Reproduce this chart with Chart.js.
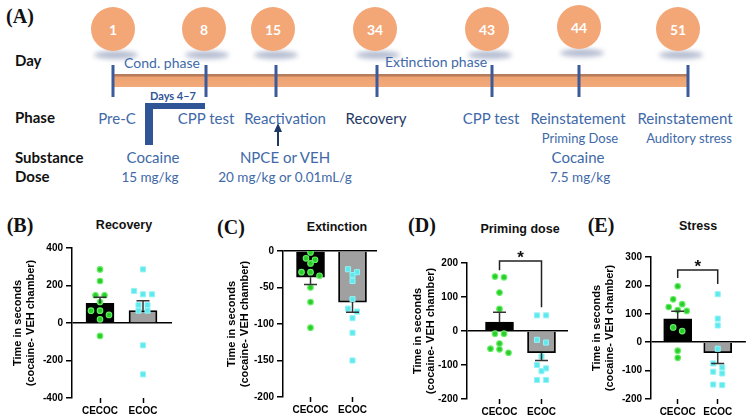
<!DOCTYPE html>
<html><head><meta charset="utf-8">
<script src="https://cdn.jsdelivr.net/npm/chart.js@4"></script>
<style>
html,body{margin:0;padding:0;background:#fff;}
#page{position:relative;width:751px;height:418px;overflow:hidden;font-family:Lato,'Noto Sans',sans-serif;}
.t{position:absolute;white-space:nowrap;transform:translate(-50%,-50%);line-height:1;color:#4169a8;font-size:15px;}
.row{position:absolute;white-space:nowrap;transform:translateY(-50%);font-weight:bold;color:#111;font-size:15px;line-height:1;}
.circle{position:absolute;width:44px;height:44px;border-radius:50%;background:#f3a676;color:#fff;font-size:14px;font-weight:bold;display:flex;align-items:center;justify-content:center;transform:translate(-50%,-50%);}
.shadow{position:absolute;width:44px;height:8px;border-radius:50%;background:#b4bcd0;filter:blur(2.5px);transform:translate(-50%,-50%);}
.tick{position:absolute;width:3px;background:#3c5b9b;top:65px;height:32px;transform:translateX(-50%);}
.plabel{position:absolute;font-family:'Liberation Serif',serif;font-weight:bold;font-size:20px;transform:translate(-50%,-50%);line-height:1;color:#111;}
.ptitle{position:absolute;font-family:'Liberation Sans',Arial,sans-serif;font-weight:bold;font-size:12.5px;transform:translate(-50%,-50%);line-height:1;color:#111;white-space:nowrap;}
canvas{position:absolute;}
</style>
</head><body>
<div id="page"></div>
<script>
// ---------- text / categories ----------
const days = ['1','8','15','34','43','44','51'];
const phaseLabels = ['Pre-C','CPP test','Reactivation','Recovery','CPP test','Reinstatement','Reinstatement'];
const phaseNotes = ['Priming Dose','Auditory stress'];
const substances = ['Cocaine','NPCE or VEH','Cocaine'];
const doses = ['15 mg/kg','20 mg/kg or 0.01mL/g','7.5 mg/kg'];
const rowLabels = ['Day','Phase','Substance','Dose'];
const spanLabels = ['Cond. phase','Extinction phase'];
const condDays = 'Days 4–7';
const panelLetters = ['(A)','(B)','(C)','(D)','(E)'];
const panelTitles = ['Recovery','Extinction','Priming dose','Stress'];
const groups = ['CECOC','ECOC'];
const yAxisTitle = ['Time in seconds','(cocaine- VEH chamber)'];
const sigLabel = '*';

// ---------- values ----------
const recoveryMean = [105, 66];
const recoverySem = [32, 53];
const recoveryCECOC = [286, 224, 148, 148, 112, 66, 66, 43, 20, -69];
const recoveryECOC = [286, 171, 153, 153, 96, 96, 66, 66, -119, -274];
const recoveryTicks = [-400, -200, 0, 200, 400];

const extinctionMean = [-36, -70];
const extinctionSem = [10, 14];
const extinctionCECOC = [-2, -10, -12, -17, -29, -29, -34, -50, -70, -105];
const extinctionECOC = [-25, -29, -33, -41, -66, -79, -83, -92, -112, -150];
const extinctionTicks = [-200, -150, -100, -50, 0];

const primingMean = [26, -64];
const primingSem = [29, 23];
const primingCECOC = [158, 160, 113, 65, -8, -8, -37, -52, -54, -64];
const primingECOC = [46, 46, -26, -34, -75, -100, -110, -118, -144, -144];
const primingTicks = [-200, -100, 0, 100, 200];
const primingBracket = [206, 179, 70]; // top, left end, right end (data units)

const stressMean = [82, -37];
const stressSem = [27, 38];
const stressCECOC = [197, 151, 134, 124, 113, 110, 52, 39, -30, -55];
const stressECOC = [169, 83, 59, -23, -75, -89, -104, -110, -151, -149];
const stressTicks = [-200, -100, 0, 100, 200, 300];
const stressBracket = [254, 226, 205];

// ---------- timeline layout (styles) ----------
const page = document.getElementById('page');
function add(cls, html, css){ const d=document.createElement('div'); d.className=cls; if(html!==null) d.textContent=html; Object.assign(d.style, css||{}); page.appendChild(d); return d; }
const dayX=[113,204,273,375,487,579,678], dayY=[29,29,29,29,29,27,29];
const tickX=[113,206,276,377,492,579,688];
const phaseX=[117,206,285,376,491,578,685];
const noteX=[580,689], substX=[153,285,578], doseX=[150,285,580];
const rowY=[60,117,157,176];

add('plabel', panelLetters[0], {left:'20px', top:'16px'});
days.forEach((d,i)=>{ add('shadow', null, {left:(dayX[i]+3)+'px', top:(dayY[i]+26)+'px'}); });
days.forEach((d,i)=>{ add('circle', d, {left:dayX[i]+'px', top:dayY[i]+'px'}); });
add('', null, {position:'absolute', left:'113px', top:'74px', width:'575px', height:'13px',
  background:'linear-gradient(to bottom,#b67c5c 0,#b67c5c 2px,#eea271 3px,#f3ab7b 100%)'});
tickX.forEach(x=>add('tick', null, {left:x+'px'}));
rowLabels.forEach((r,i)=>add('row', r, {left:'15px', top:rowY[i]+'px'}));
add('t', spanLabels[0], {left:'162px', top:'63px', fontSize:'14px'});
add('t', spanLabels[1], {left:'436px', top:'62px', fontSize:'14px'});
add('t', condDays, {left:'173px', top:'95px', fontSize:'11px', fontWeight:'bold', color:'#2f5597'});
add('', null, {position:'absolute', left:'145px', top:'103px', width:'60px', height:'6px', background:'#2f5597'});
add('', null, {position:'absolute', left:'145px', top:'103px', width:'8px', height:'42px', background:'#2f5597'});
phaseLabels.forEach((p,i)=>add('t', p, {left:phaseX[i]+'px', top:'118px', color: i===3 ? '#1f3864' : '#4169a8'}));
phaseNotes.forEach((p,i)=>add('t', p, {left:noteX[i]+'px', top:'138px', fontSize:'13px'}));
substances.forEach((p,i)=>add('t', p, {left:substX[i]+'px', top:'157px'}));
doses.forEach((p,i)=>add('t', p, {left:doseX[i]+'px', top:'178px', fontSize:'13.5px'}));
// arrow
add('', null, {position:'absolute', left:'277px', top:'131px', width:'2px', height:'15px', background:'#1f3864'});
add('', null, {position:'absolute', left:'274px', top:'123px', width:0, height:0, borderLeft:'4px solid transparent', borderRight:'4px solid transparent', borderBottom:'9px solid #1f3864'});

// ---------- bar panels ----------
const panelLetterPos=[[20,225],[231,227],[422,225],[601,225]];
const panelTitlePos=[[124,225],[337,227],[520,229],[698,226]];
panelTitles.forEach((t,i)=>{
  add('plabel', panelLetters[i+1], {left:panelLetterPos[i][0]+'px', top:panelLetterPos[i][1]+'px'});
  add('ptitle', t, {left:panelTitlePos[i][0]+'px', top:panelTitlePos[i][1]+'px'});
});

const FONT = "'Liberation Sans', Arial, sans-serif";

function makePanel(c){
  const cv=document.createElement('canvas');
  cv.width=c.w; cv.height=c.h;
  cv.style.left=c.left+'px'; cv.style.top=c.top+'px';
  cv.style.width=c.w+'px'; cv.style.height=c.h+'px';
  page.appendChild(cv);
  const extras={
    id:'extras',
    afterDatasetsDraw(chart){
      const {ctx, scales:{x,y}}=chart;
      ctx.save();
      ctx.strokeStyle='#333'; ctx.lineWidth=1.5;
      c.mean.forEach((m,i)=>{
        const px=x.getPixelForValue(i), y0=y.getPixelForValue(m), y1=y.getPixelForValue(m+Math.sign(m)*c.sem[i]);
        ctx.beginPath(); ctx.moveTo(px,y0); ctx.lineTo(px,y1);
        ctx.moveTo(px-6.5,y1); ctx.lineTo(px+6.5,y1); ctx.stroke();
      });
      if(c.bracket){
        const x0=x.getPixelForValue(0), x1=x.getPixelForValue(1);
        const yt=y.getPixelForValue(c.bracket[0]);
        ctx.strokeStyle='#222'; ctx.lineWidth=1.5;
        ctx.beginPath();
        ctx.moveTo(x0,y.getPixelForValue(c.bracket[1])); ctx.lineTo(x0,yt); ctx.lineTo(x1,yt); ctx.lineTo(x1,y.getPixelForValue(c.bracket[2]));
        ctx.stroke();
        ctx.fillStyle='#111'; ctx.font="bold 17px "+FONT; ctx.textAlign='center'; ctx.textBaseline='alphabetic';
        ctx.fillText(sigLabel,(x0+x1)/2,yt+2);
      }
      ctx.restore();
    }
  };
  const chart=new Chart(cv,{
    type:'bar',
    data:{datasets:[
      {type:'bar', data:c.mean.map((m,i)=>({x:i,y:m})), backgroundColor:['#000','#a0a0a0'], borderColor:'#000', borderWidth:1.8, barThickness:28, order:3},
      {type:'scatter', data:c.a.map(v=>({x:0,y:v})), pointStyle:'circle', pointRadius:2.8, backgroundColor:'#2ccc2c', borderColor:'#66f066', borderWidth:1.1, order:1},
      {type:'scatter', data:c.b.map(v=>({x:1,y:v})), pointStyle:'rect', pointRadius:3.6, backgroundColor:'#5ee9ee', borderColor:'#93f3f5', borderWidth:1, order:2}
    ]},
    options:{
      responsive:false, animation:false, devicePixelRatio:1, events:[],
      layout:{padding:{top:c.padTop, right:c.padRight, bottom:0, left:0}},
      plugins:{legend:{display:false}, tooltip:{enabled:false}, title:{display:false}},
      scales:{
        x:{type:'linear', min:c.xMin, max:c.xMax, offset:false,
          afterBuildTicks:s=>{ s.ticks=groups.map((g,i)=>({value:i})); },
          afterFit:s=>{ s.height=c.xH; },
          border:{display:false},
          grid:{offset:false, drawOnChartArea:false, drawTicks:true, tickLength:5, tickColor:'#000', tickWidth:1.5, color:'#000'},
          ticks:{callback:v=>groups[v], font:{family:FONT, size:10, weight:'bold'}, color:'#000', padding:2, maxRotation:0, autoSkip:false}
        },
        y:{type:'linear', min:c.yTicks[0], max:c.yTicks[c.yTicks.length-1],
          afterBuildTicks:s=>{ s.ticks=c.yTicks.map(v=>({value:v})); },
          afterFit:s=>{ s.width=c.yW; },
          border:{display:true, color:'#000', width:1.5},
          grid:{drawOnChartArea:true, drawTicks:true, tickLength:6, tickColor:'#000', tickWidth:1.5, lineWidth:1.5,
            color:ctx=> (ctx.tick && ctx.tick.value===0) ? '#000' : 'rgba(0,0,0,0)'},
          ticks:{font:{family:FONT, size:10, weight:'bold'}, color:'#000', padding:3},
          title:{display:true, text:yAxisTitle, font:{family:FONT, size:11, weight:'bold'}, color:'#000', padding:{top:c.titlePad, bottom:0}}
        }
      }
    },
    plugins:[extras]
  });
  // beeswarm-style horizontal spread of overlapping points
  const xs=chart.scales.x, ys=chart.scales.y;
  const ppu=Math.abs(xs.getPixelForValue(1)-xs.getPixelForValue(0));
  [[1,0,c.a],[2,1,c.b]].forEach(([di,g,vals])=>{
    const items=vals.map((v,i)=>({v,i,py:ys.getPixelForValue(v)})).sort((p,q)=>p.py-q.py);
    const rows=[];
    items.forEach(it=>{ const r=rows[rows.length-1]; if(r && it.py-r[0].py<5) r.push(it); else rows.push([it]); });
    const out=new Array(vals.length);
    rows.forEach(r=>r.forEach((it,k)=>{ out[it.i]={x:g+((k-(r.length-1)/2)*9)/ppu, y:it.v}; }));
    chart.data.datasets[di].data=out;
  });
  chart.update('none');
  return chart;
}

makePanel({left:0, top:235, w:180, h:183, yW:72, xH:20, padTop:13, padRight:8, titlePad:11.5,
  xMin:-0.651, xMax:1.674, yTicks:recoveryTicks, mean:recoveryMean, sem:recoverySem, a:recoveryCECOC, b:recoveryECOC});
makePanel({left:214, top:235, w:171, h:183, yW:69, xH:21, padTop:16, padRight:8, titlePad:11.5,
  xMin:-0.655, xMax:1.583, yTicks:extinctionTicks, mean:extinctionMean, sem:extinctionSem, a:extinctionCECOC, b:extinctionECOC});
makePanel({left:400, top:235, w:174, h:183, yW:67, xH:19, padTop:28, padRight:6, titlePad:11.5,
  xMin:-0.774, xMax:1.631, yTicks:primingTicks, mean:primingMean, sem:primingSem, a:primingCECOC, b:primingECOC, bracket:primingBracket});
makePanel({left:579, top:235, w:172, h:183, yW:72, xH:19, padTop:22, padRight:4, titlePad:11.5,
  xMin:-0.667, xMax:1.704, yTicks:stressTicks, mean:stressMean, sem:stressSem, a:stressCECOC, b:stressECOC, bracket:stressBracket});
</script>
</body></html>
